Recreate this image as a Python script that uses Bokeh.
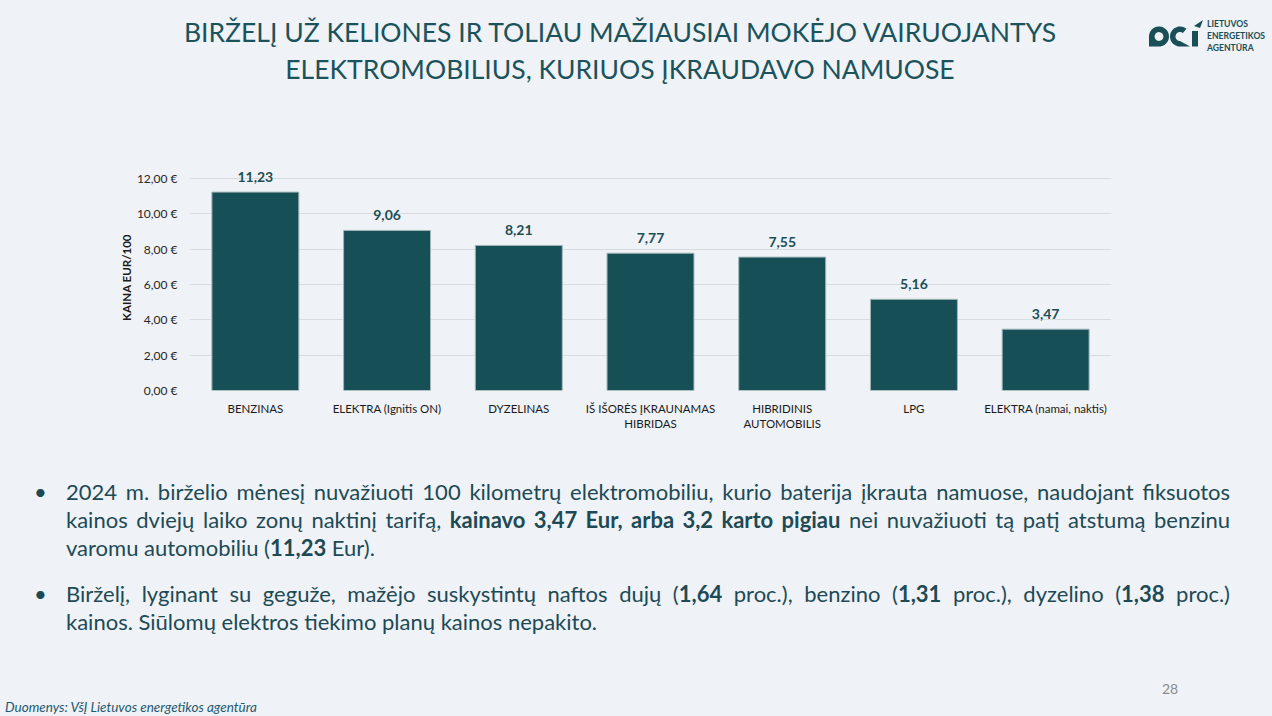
import numpy as np
from bokeh.plotting import figure
from bokeh.models import (ColumnDataSource, Range1d, FactorRange, FixedTicker,
                          LabelSet, Div)
from bokeh.layouts import column
from bokeh.embed import file_html
from bokeh.resources import INLINE
from bokeh.core.properties import value

# ---------------- data ----------------
categories = ["BENZINAS", "ELEKTRA (Ignitis ON)", "DYZELINAS",
              "IŠ IŠORĖS ĮKRAUNAMAS\nHIBRIDAS", "HIBRIDINIS\nAUTOMOBILIS",
              "LPG", "ELEKTRA (namai, naktis)"]
prices = [11.23, 9.06, 8.21, 7.77, 7.55, 5.16, 3.47]
price_labels = ["11,23", "9,06", "8,21", "7,77", "7,55", "5,16", "3,47"]
y_ticks = [0, 2, 4, 6, 8, 10, 12]
y_tick_labels = ["0,00 €", "2,00 €", "4,00 €", "6,00 €", "8,00 €", "10,00 €", "12,00 €"]
y_axis_title = "KAINA EUR/100"
title_lines = ["BIRŽELĮ UŽ KELIONES IR TOLIAU MAŽIAUSIAI MOKĖJO VAIRUOJANTYS",
               "ELEKTROMOBILIUS, KURIUOS ĮKRAUDAVO NAMUOSE"]
logo_lines = ["LIETUVOS", "ENERGETIKOS", "AGENTŪRA"]
source_note = "Duomenys: VšĮ Lietuvos energetikos agentūra"
page_number = "28"

# ---------------- style ----------------
BG = "#eff2f6"
BAR = "#174f57"
TEAL = "#1b535c"
TEXT = "#1d4a55"
LOGO = "#1a4f57"
FONT = "Lato"

W = 1272
TOP_H = 110
BOT_H = 246
CH_H = 716 - TOP_H - BOT_H
FL, FR, FB = 189, 1111, 390          # chart frame edges in page px
Y12 = 178                             # page y of the 12,00 gridline
FT = 164                              # frame top (room for value labels)
y_end = 12 * (FB - FT) / (FB - Y12)

# ---------------- top band: title + logo (HTML) ----------------
def arc(cx, cy, r, a0, a1, n=32):
    a = np.radians(np.linspace(a0, a1, n))
    return np.c_[cx + r * np.cos(a), cy - r * np.sin(a)]

def path(pts):
    return "M " + " L ".join(f"{x:.1f} {y:.1f}" for x, y in pts) + " Z"

cx, cy = 1159, 36.5
d_outer = np.vstack([arc(cx, cy, 10, -90, 180), [[cx - 10, cy + 10]]])
d_inner = arc(cx, cy, 4.4, 0, 360)
cx2 = 1180
c_shape = np.vstack([arc(cx2, cy, 10, 50, 270), [[cx2 + 10, cy + 10]],
                     arc(cx2, cy, 4.5, 270, 50)])
i_stem = np.array([[1192, 31], [1198, 31], [1198, 46.5], [1192, 46.5]])
i_arrow = np.array([[1194, 26], [1203, 20], [1200, 28]])

svg = (f'<svg width="{W}" height="{TOP_H}" style="position:absolute;left:0;top:0;">'
       f'<path d="{path(d_outer)} {path(d_inner)}" fill="{LOGO}" fill-rule="evenodd"/>'
       f'<path d="{path(c_shape)}" fill="{LOGO}"/>'
       f'<path d="{path(i_stem)}" fill="{LOGO}"/>'
       f'<path d="{path(i_arrow)}" fill="{LOGO}"/>'
       '</svg>')

top_html = (f'<div style="position:relative;width:{W}px;height:{TOP_H}px;background:{BG};'
            f'font-family:{FONT}, sans-serif;overflow:hidden;">' + svg
            + f'<div style="position:absolute;left:0;width:1240px;top:16px;line-height:32px;'
              f'font-size:26.5px;text-align:center;white-space:nowrap;color:{TEAL};">{title_lines[0]}</div>'
            + f'<div style="position:absolute;left:0;width:1240px;top:53px;line-height:32px;'
              f'font-size:26.5px;text-align:center;white-space:nowrap;color:{TEAL};">{title_lines[1]}</div>'
            + f'<div style="position:absolute;left:1207px;top:18px;line-height:12px;font-size:8.6px;'
              f'font-weight:bold;white-space:nowrap;color:{LOGO};">' + "<br>".join(logo_lines) + '</div>'
            + '</div>')
top_div = Div(text=top_html, width=W, height=TOP_H, margin=(0, 0, 0, 0))

# ---------------- chart ----------------
src = ColumnDataSource(dict(cat=categories, price=prices, label=price_labels))

p = figure(width=W, height=CH_H,
           x_range=FactorRange(*categories), y_range=Range1d(0, y_end),
           output_backend="svg", toolbar_location=None,
           min_border_left=FL, min_border_right=W - FR,
           min_border_top=FT - TOP_H, min_border_bottom=TOP_H + CH_H - FB,
           background_fill_color=BG, border_fill_color=BG,
           outline_line_color=None)

p.vbar(x="cat", top="price", width=0.66, source=src,
       fill_color=BAR, line_color="#9fb5b8", line_width=1)

p.xgrid.grid_line_color = None
p.ygrid.ticker = FixedTicker(ticks=y_ticks)
p.ygrid.grid_line_color = "#d9dcdf"
p.ygrid.grid_line_width = 1

ya = p.yaxis[0]
ya.ticker = FixedTicker(ticks=y_ticks)
ya.major_label_overrides = {float(t): l for t, l in zip(y_ticks, y_tick_labels)}
ya.axis_line_color = None
ya.major_tick_line_color = None
ya.minor_tick_line_color = None
ya.major_label_text_font = FONT
ya.major_label_text_font_size = "12px"
ya.major_label_text_color = "#262626"
ya.major_label_standoff = 6
ya.axis_label = y_axis_title
ya.axis_label_text_font = FONT
ya.axis_label_text_font_size = "11.5px"
ya.axis_label_text_font_style = "bold"
ya.axis_label_text_color = "#1a1a1a"
ya.axis_label_standoff = 1

xa = p.xaxis[0]
xa.axis_line_color = None
xa.major_tick_line_color = None
xa.minor_tick_line_color = None
xa.major_label_text_font = FONT
xa.major_label_text_font_size = "11.5px"
xa.major_label_text_color = "#1a1a1a"
xa.major_label_standoff = 5
xa.major_label_orientation = "horizontal"

p.add_layout(LabelSet(x="cat", y="price", text="label", source=src,
                      text_align="center", text_baseline="bottom", y_offset=10,
                      text_font=value(FONT), text_font_size="14px",
                      text_font_style="bold", text_color="#1d4e56"))

# ---------------- bullets (HTML) ----------------
J = "text-align:justify;text-align-last:justify;white-space:nowrap;"
L = "text-align:left;white-space:nowrap;"
b1 = [
    (J, "2024 m. birželio mėnesį nuvažiuoti 100 kilometrų elektromobiliu, kurio baterija įkrauta namuose, naudojant fiksuotos"),
    (J, "kainos dviejų laiko zonų naktinį tarifą, <b>kainavo 3,47 Eur, arba 3,2 karto pigiau</b> nei nuvažiuoti tą patį atstumą benzinu"),
    (L, "varomu automobiliu (<b>11,23</b> Eur)."),
]
b2 = [
    (J, "Birželį, lyginant su geguže, mažėjo suskystintų naftos dujų (<b>1,64</b> proc.), benzino (<b>1,31</b> proc.), dyzelino (<b>1,38</b> proc.)"),
    (L, "kainos. Siūlomų elektros tiekimo planų kainos nepakito."),
]

def block(lines, top):
    inner = "".join(f'<div style="{st}">{t}</div>' for st, t in lines)
    return (f'<div style="position:absolute;left:34px;top:{top}px;line-height:28px;font-size:22px;">•</div>'
            f'<div style="position:absolute;left:66px;width:1164px;top:{top}px;line-height:28px;font-size:22px;">{inner}</div>')

html = (f'<div style="position:relative;width:{W}px;height:{BOT_H}px;background:{BG};'
        f'font-family:{FONT}, sans-serif;color:{TEXT};overflow:hidden;">'
        + block(b1, 8) + block(b2, 110)
        + f'<div style="position:absolute;left:1162px;top:209px;font-size:14px;color:#8c8c8c;">{page_number}</div>'
        + f'<div style="position:absolute;left:5px;top:229px;font-size:13.5px;line-height:16px;font-style:italic;color:#1e5a70;">{source_note}</div>'
        + '</div>')

bot_div = Div(text=html, width=W, height=BOT_H, margin=(0, 0, 0, 0))

layout = column(top_div, p, bot_div, spacing=0, styles={"background": BG})

open("out.html", "w").write(file_html(layout, INLINE))
